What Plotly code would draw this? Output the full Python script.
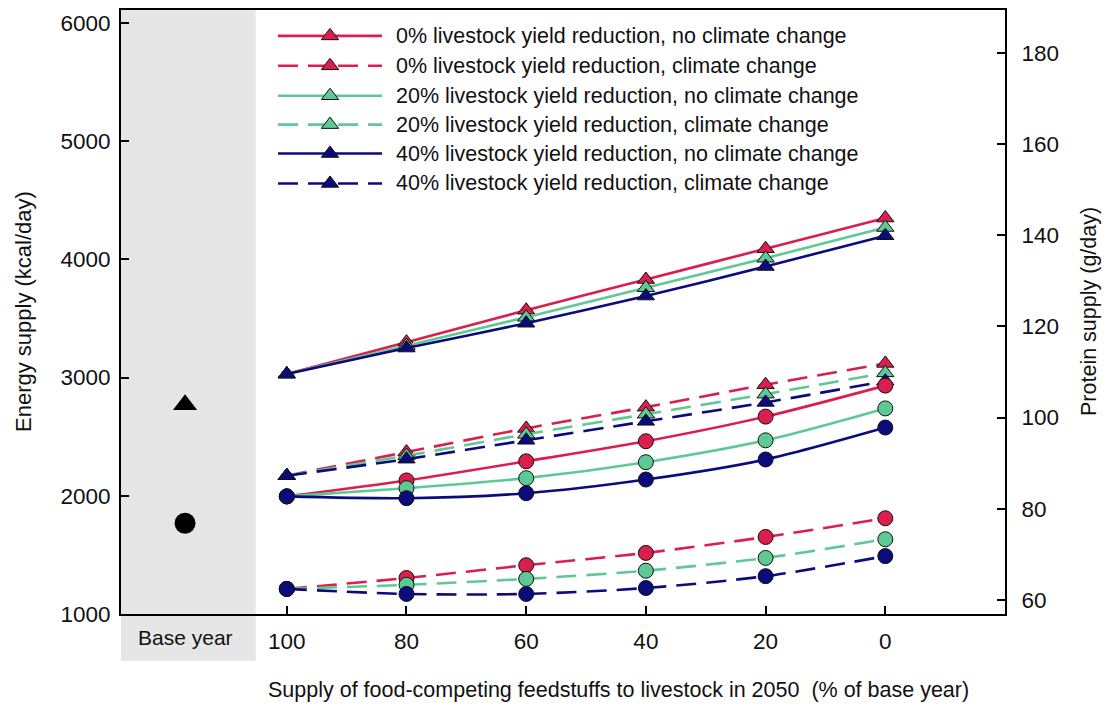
import plotly.graph_objects as go

# ---- data -------------------------------------------------------------
pct = [100, 80, 60, 40, 20, 0]            # supply of food-competing feed (% of base year)
pct_labels = ["100", "80", "60", "40", "20", "0"]

# Energy supply (kcal/day), triangles, left axis
energy_0_ncc = [3030, 3300, 3570, 3830, 4090, 4350]
energy_20_ncc = [3030, 3270, 3510, 3760, 4010, 4270]
energy_40_ncc = [3030, 3250, 3460, 3690, 3940, 4200]
energy_0_cc = [2170, 2370, 2570, 2750, 2940, 3120]
energy_20_cc = [2170, 2340, 2520, 2690, 2860, 3040]
energy_40_cc = [2170, 2310, 2470, 2630, 2790, 2970]

# Protein supply (g/day), circles, right axis
protein_0_ncc = [82.7, 86.2, 90.4, 94.8, 100.2, 107.0]
protein_20_ncc = [82.7, 84.5, 86.7, 90.2, 95.0, 102.0]
protein_40_ncc = [82.7, 82.3, 83.4, 86.4, 90.8, 97.8]
protein_0_cc = [62.4, 64.8, 67.6, 70.3, 73.8, 77.9]
protein_20_cc = [62.4, 63.3, 64.6, 66.4, 69.2, 73.3]
protein_40_cc = [62.4, 61.3, 61.3, 62.6, 65.2, 69.6]

# Base year values
base_energy = [2771]
base_protein = [76.8]

legend_names = [
    "0% livestock yield reduction, no climate change",
    "0% livestock yield reduction, climate change",
    "20% livestock yield reduction, no climate change",
    "20% livestock yield reduction, climate change",
    "40% livestock yield reduction, no climate change",
    "40% livestock yield reduction, climate change",
]

# ---- styling ----------------------------------------------------------
RED = "#DA1E4E"
GREEN = "#5FC995"
NAVY = "#0B0B7C"
DASH = "20px,10px"
FONT = "Liberation Sans, Arial, sans-serif"
TXT = "#111111"

W, H = 1112, 706
ML, MR, MT, MB = 121, 107, 8, 92
PW, PH = W - ML - MR, H - MT - MB

X_RANGE = [127.7, -20]
BASE_X = 117
GRAY_RIGHT = 105.2

series = [
    (RED, "solid", energy_0_ncc, protein_0_ncc),
    (RED, DASH, energy_0_cc, protein_0_cc),
    (GREEN, "solid", energy_20_ncc, protein_20_ncc),
    (GREEN, DASH, energy_20_cc, protein_20_cc),
    (NAVY, "solid", energy_40_ncc, protein_40_ncc),
    (NAVY, DASH, energy_40_cc, protein_40_cc),
]

fig = go.Figure()

# protein curves (circles, right axis)
for color, dash, _, prot in series:
    fig.add_trace(go.Scatter(
        x=pct, y=prot, yaxis="y2", mode="lines+markers",
        line=dict(color=color, width=2.6, dash=dash, shape="spline", smoothing=0.8),
        marker=dict(symbol="circle", size=15, color=color,
                    line=dict(color="#111111", width=1)),
        showlegend=False, hoverinfo="skip"))

# energy curves (triangles, left axis)
for color, dash, en, _ in series:
    fig.add_trace(go.Scatter(
        x=pct, y=en, mode="lines+markers",
        line=dict(color=color, width=2.6, dash=dash, shape="spline", smoothing=0.8),
        marker=dict(symbol="triangle-up", size=15, color=color,
                    line=dict(color="#111111", width=1)),
        showlegend=False, hoverinfo="skip"))

# base year points
fig.add_trace(go.Scatter(x=[BASE_X], y=base_energy, mode="markers",
                         marker=dict(symbol="triangle-up", size=21, color="black"),
                         showlegend=False, hoverinfo="skip"))
fig.add_trace(go.Scatter(x=[BASE_X], y=base_protein, yaxis="y2", mode="markers",
                         marker=dict(symbol="circle", size=21, color="black"),
                         showlegend=False, hoverinfo="skip"))

# ---- legend drawn on a pixel-scaled overlay axis ----------------------
row_y = [26, 56, 86, 115, 144, 174]
line_x0, line_x1, mark_x, text_x = 157, 261, 209, 273
annotations = []
for (color, dash, _, _), name, ry in zip(series, legend_names, row_y):
    fig.add_trace(go.Scatter(
        x=[line_x0, line_x1], y=[ry, ry], xaxis="x3", yaxis="y3", mode="lines",
        line=dict(color=color, width=2.6, dash=dash),
        showlegend=False, hoverinfo="skip"))
    fig.add_trace(go.Scatter(
        x=[mark_x], y=[ry], xaxis="x3", yaxis="y3", mode="markers",
        marker=dict(symbol="triangle-up", size=15, color=color,
                    line=dict(color="#111111", width=1)),
        showlegend=False, hoverinfo="skip"))
    annotations.append(dict(
        x=text_x, y=ry, xref="x3", yref="y3", text=name, showarrow=False,
        xanchor="left", yanchor="middle", font=dict(family=FONT, size=21.5, color=TXT)))

# base year label and axis titles
annotations += [
    dict(x=BASE_X, y=-(638 - (MT + PH)) / PH, xref="x", yref="paper", text="Base year",
         showarrow=False, xanchor="center", yanchor="middle",
         font=dict(family=FONT, size=21, color=TXT)),
    dict(x=(618 - ML) / PW, y=-(690 - (MT + PH)) / PH, xref="paper", yref="paper",
         text="Supply of food-competing feedstuffs to livestock in 2050  (% of base year)",
         showarrow=False, xanchor="center", yanchor="middle",
         font=dict(family=FONT, size=21.5, color=TXT)),
    dict(x=(23 - ML) / PW, y=0.5, xref="paper", yref="paper",
         text="Energy supply (kcal/day)", textangle=-90, showarrow=False,
         xanchor="center", yanchor="middle", font=dict(family=FONT, size=22, color=TXT)),
    dict(x=(1089 - ML) / PW, y=0.5, xref="paper", yref="paper",
         text="Protein supply (g/day)", textangle=-90, showarrow=False,
         xanchor="center", yanchor="middle", font=dict(family=FONT, size=21.5, color=TXT)),
]

axis_common = dict(showgrid=False, zeroline=False, showline=True, linecolor="black",
                   linewidth=2, ticks="inside", ticklen=8, tickwidth=1.5,
                   tickcolor="black", tickfont=dict(family=FONT, size=22.5, color=TXT))

fig.update_layout(
    width=W, height=H,
    margin=dict(l=ML, r=MR, t=MT, b=MB, pad=0),
    paper_bgcolor="white", plot_bgcolor="white",
    showlegend=False,
    xaxis=dict(range=X_RANGE, tickvals=pct, ticktext=pct_labels,
               mirror=True, ticklabelstandoff=6, **axis_common),
    yaxis=dict(range=[1000, 6110], tickvals=[1000, 2000, 3000, 4000, 5000, 6000],
               ticklabelstandoff=4, **axis_common),
    yaxis2=dict(range=[56.9, 189.4], tickvals=[60, 80, 100, 120, 140, 160, 180],
                overlaying="y", side="right", ticklabelstandoff=10, **axis_common),
    xaxis3=dict(range=[0, PW], overlaying="x", visible=False),
    yaxis3=dict(range=[PH, 0], overlaying="y", anchor="x3", visible=False),
    shapes=[dict(type="rect", xref="x", yref="paper", x0=X_RANGE[0], x1=GRAY_RIGHT,
                 y0=-(661 - (MT + PH)) / PH, y1=1, fillcolor="#E6E6E6",
                 line=dict(width=0), layer="below")],
    annotations=annotations,
)

fig.write_html("out.html")
